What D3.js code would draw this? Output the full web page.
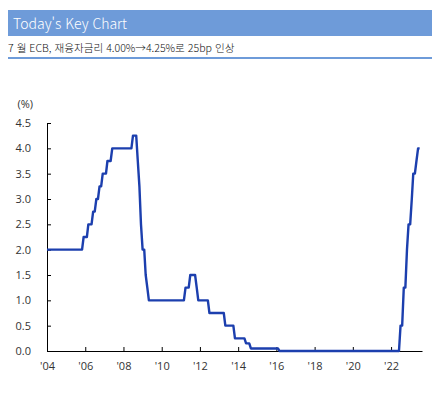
<!DOCTYPE html>
<html lang="ko">
<head>
<meta charset="UTF-8">
<title>Today's Key Chart</title>
<script src="https://d3js.org/d3.v7.min.js"></script>
<style>
    body { margin: 0; background: #fff; }
    .axis text { font-family: "Open Sans", "Noto Sans", sans-serif; font-size: 11px; fill: #333; }
    .axis path, .axis line { stroke: #000; }
    .rate-line { fill: none; stroke: #1c3fae; stroke-width: 2.4px; stroke-linejoin: round; }
</style>
</head>
<body>
<svg width="447" height="393"></svg>
<script>
// ECB main refinancing rate, corner points of the line (month, %)
const months = [
    "2004-01", "2005-11", "2005-12", "2006-02", "2006-03", "2006-05", "2006-06", "2006-07",
    "2006-08", "2006-09", "2006-10", "2006-11", "2006-12", "2007-02", "2007-03", "2007-05",
    "2007-06", "2008-06", "2008-07", "2008-09", "2008-10", "2008-11", "2008-12", "2009-01",
    "2009-02", "2009-03", "2009-04", "2009-05", "2011-03", "2011-04", "2011-06", "2011-07",
    "2011-10", "2011-11", "2011-12", "2012-06", "2012-07", "2013-04", "2013-05", "2013-10",
    "2013-11", "2014-05", "2014-06", "2014-08", "2014-09", "2016-02", "2016-03", "2022-06",
    "2022-07", "2022-08", "2022-09", "2022-10", "2022-11", "2022-12", "2023-01", "2023-02",
    "2023-03", "2023-04", "2023-05", "2023-06", "2023-07"
];
const rates = [
    2.00, 2.00, 2.25, 2.25, 2.50, 2.50, 2.75, 2.75,
    3.00, 3.00, 3.25, 3.25, 3.50, 3.50, 3.75, 3.75,
    4.00, 4.00, 4.25, 4.25, 3.75, 3.25, 2.50, 2.00,
    2.00, 1.50, 1.25, 1.00, 1.00, 1.25, 1.25, 1.50,
    1.50, 1.25, 1.00, 1.00, 0.75, 0.75, 0.50, 0.50,
    0.25, 0.25, 0.15, 0.15, 0.05, 0.05, 0.00, 0.00,
    0.50, 0.50, 1.25, 1.25, 2.00, 2.50, 2.50, 3.00,
    3.50, 3.50, 3.75, 4.00, 4.00
];
const yTicks = [0, 0.5, 1.0, 1.5, 2.0, 2.5, 3.0, 3.5, 4.0, 4.5];
const xTickYears = ["2004", "2006", "2008", "2010", "2012", "2014", "2016", "2018", "2020", "2022"];

const title = "Today's Key Chart";
const subtitle = "7 월 ECB, 재융자금리 4.00%→4.25%로 25bp 인상";

const parseMonth = d3.timeParse("%Y-%m");
const parseYear = d3.timeParse("%Y");
const data = months.map((m, i) => ({ date: parseMonth(m), rate: rates[i] }));

const svg = d3.select("svg");

// header
svg.append("rect")
    .attr("x", 8).attr("y", 10).attr("width", 424).attr("height", 26)
    .attr("fill", "#6e9bd9");
svg.append("text")
    .attr("x", 13).attr("y", 29)
    .attr("fill", "#fff")
    .style("font-family", "'Noto Sans CJK KR', 'Noto Sans', sans-serif")
    .style("font-size", "14px")
    .style("font-weight", 300)
    .text(title);
svg.append("text")
    .attr("x", 8).attr("y", 52)
    .attr("fill", "#111")
    .style("font-family", "'Noto Sans CJK KR', sans-serif")
    .style("font-size", "10.6px")
    .style("font-weight", 300)
    .text(subtitle);
svg.append("rect")
    .attr("x", 8).attr("y", 57).attr("width", 424).attr("height", 2)
    .attr("fill", "#6e9bd9");

// scales
const x = d3.scaleTime()
    .domain([parseMonth("2004-01"), new Date(2023, 7, 15)])
    .range([47, 422]);
const y = d3.scaleLinear()
    .domain([0, 4.5])
    .range([351, 123]);

svg.append("g")
    .attr("class", "axis")
    .attr("transform", "translate(0,351)")
    .call(d3.axisBottom(x)
        .tickValues(xTickYears.map(parseYear))
        .tickFormat(d3.timeFormat("'%y"))
        .tickSizeInner(-4).tickSizeOuter(0).tickPadding(11));

svg.append("g")
    .attr("class", "axis")
    .attr("transform", "translate(47,0)")
    .call(d3.axisLeft(y)
        .tickValues(yTicks)
        .tickFormat(d3.format(".1f"))
        .tickSizeInner(-4).tickSizeOuter(0).tickPadding(16));

svg.append("text")
    .attr("x", 33).attr("y", 108)
    .attr("text-anchor", "end")
    .style("font-family", "'Open Sans', sans-serif")
    .style("font-size", "11px")
    .attr("fill", "#333")
    .text("(%)");

const line = d3.line()
    .x(d => x(d.date))
    .y(d => y(d.rate));

svg.append("path")
    .datum(data)
    .attr("class", "rate-line")
    .attr("d", line);
</script>
</body>
</html>
